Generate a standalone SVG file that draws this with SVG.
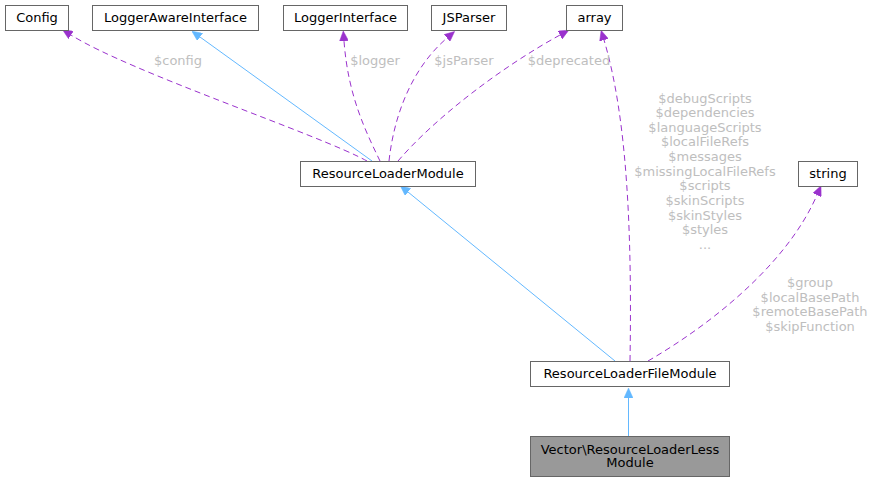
<svg xmlns="http://www.w3.org/2000/svg" width="874" height="481" viewBox="0 0 874 481">
<style>
.box{fill:#ffffff;stroke:#666666;stroke-width:1}
.cur{fill:#999999;stroke:#666666;stroke-width:1}
.nt{font-family:"DejaVu Sans",sans-serif;font-size:13px;fill:#000000;text-anchor:middle}
.lt{font-family:"DejaVu Sans",sans-serif;font-size:13px;fill:#bebebe;text-anchor:middle}
.inh{fill:none;stroke:#63b8ff;stroke-width:1;marker-end:url(#ab)}
.use{fill:none;stroke:#9a32cd;stroke-width:1;stroke-dasharray:6,4;marker-end:url(#ap)}
</style>
<defs>
<marker id="ab" viewBox="0 0 10 9" refX="0" refY="4.5" markerWidth="10" markerHeight="9" markerUnits="userSpaceOnUse" orient="auto">
<path d="M0,0 L10,4.5 L0,9 z" fill="#63b8ff" stroke="#63b8ff" stroke-width="0.5"/>
</marker>
<marker id="ap" viewBox="0 0 10 9" refX="0" refY="4.5" markerWidth="10" markerHeight="9" markerUnits="userSpaceOnUse" orient="auto">
<path d="M0,0 L10,4.5 L0,9 z" fill="#9a32cd" stroke="#9a32cd" stroke-width="0.5"/>
</marker>
</defs>
<rect width="874" height="481" fill="#ffffff"/>
<g id="connectors">
<path class="use" d="M367,161 C320,135 130,72 71,35"/>
<path class="inh" d="M372,161 L200,37"/>
<path class="use" d="M380,161 C365,130 348,95 344,41"/>
<path class="use" d="M389,161 C394,115 412,68 447,38"/>
<path class="use" d="M398,161 C435,118 500,68 560,35"/>
<path class="use" d="M630,361 C632,240 628,120 604,40"/>
<path class="use" d="M648,361 C715,322 788,262 817,195"/>
<path class="inh" d="M615,361 L408,192"/>
<path class="inh" d="M628.5,436 L628.5,398"/>
<text class="lt" x="178" y="65">$config</text>
<text class="lt" x="375" y="65">$logger</text>
<text class="lt" x="464" y="65">$jsParser</text>
<text class="lt" x="569" y="65">$deprecated</text>
<text class="lt" x="705" y="102.5">$debugScripts</text>
<text class="lt" x="705" y="117">$dependencies</text>
<text class="lt" x="705" y="131.7">$languageScripts</text>
<text class="lt" x="705" y="146.3">$localFileRefs</text>
<text class="lt" x="705" y="161">$messages</text>
<text class="lt" x="705" y="175.7">$missingLocalFileRefs</text>
<text class="lt" x="705" y="190.3">$scripts</text>
<text class="lt" x="705" y="205">$skinScripts</text>
<text class="lt" x="705" y="219.7">$skinStyles</text>
<text class="lt" x="705" y="234.3">$styles</text>
<text class="lt" x="705" y="249">...</text>
<text class="lt" x="810" y="287">$group</text>
<text class="lt" x="810" y="301.7">$localBasePath</text>
<text class="lt" x="810" y="316.3">$remoteBasePath</text>
<text class="lt" x="810" y="331">$skipFunction</text>
</g>
<g id="Config"><rect class="box" x="5.5" y="5.5" width="63" height="25"/><text class="nt" x="37" y="22">Config</text></g>
<g id="LoggerAwareInterface"><rect class="box" x="92.5" y="5.5" width="166" height="25"/><text class="nt" x="175.5" y="22">LoggerAwareInterface</text></g>
<g id="LoggerInterface"><rect class="box" x="283.5" y="5.5" width="124" height="25"/><text class="nt" x="345.5" y="22">LoggerInterface</text></g>
<g id="JSParser"><rect class="box" x="431.5" y="5.5" width="75" height="25"/><text class="nt" x="469" y="22">JSParser</text></g>
<g id="array"><rect class="box" x="566.5" y="5.5" width="56" height="25"/><text class="nt" x="594.5" y="22">array</text></g>
<g id="ResourceLoaderModule"><rect class="box" x="300.5" y="161.5" width="175" height="25"/><text class="nt" x="388" y="178">ResourceLoaderModule</text></g>
<g id="string"><rect class="box" x="798.5" y="161.5" width="59" height="25"/><text class="nt" x="828" y="178">string</text></g>
<g id="ResourceLoaderFileModule"><rect class="box" x="530.5" y="361.5" width="199" height="25"/><text class="nt" x="630" y="378">ResourceLoaderFileModule</text></g>
<g id="VectorResourceLoaderLessModule"><rect class="cur" x="530.5" y="436.5" width="199" height="40"/><text class="nt" x="630" y="453.5">Vector\ResourceLoaderLess</text><text class="nt" x="630" y="467">Module</text></g>
</svg>
